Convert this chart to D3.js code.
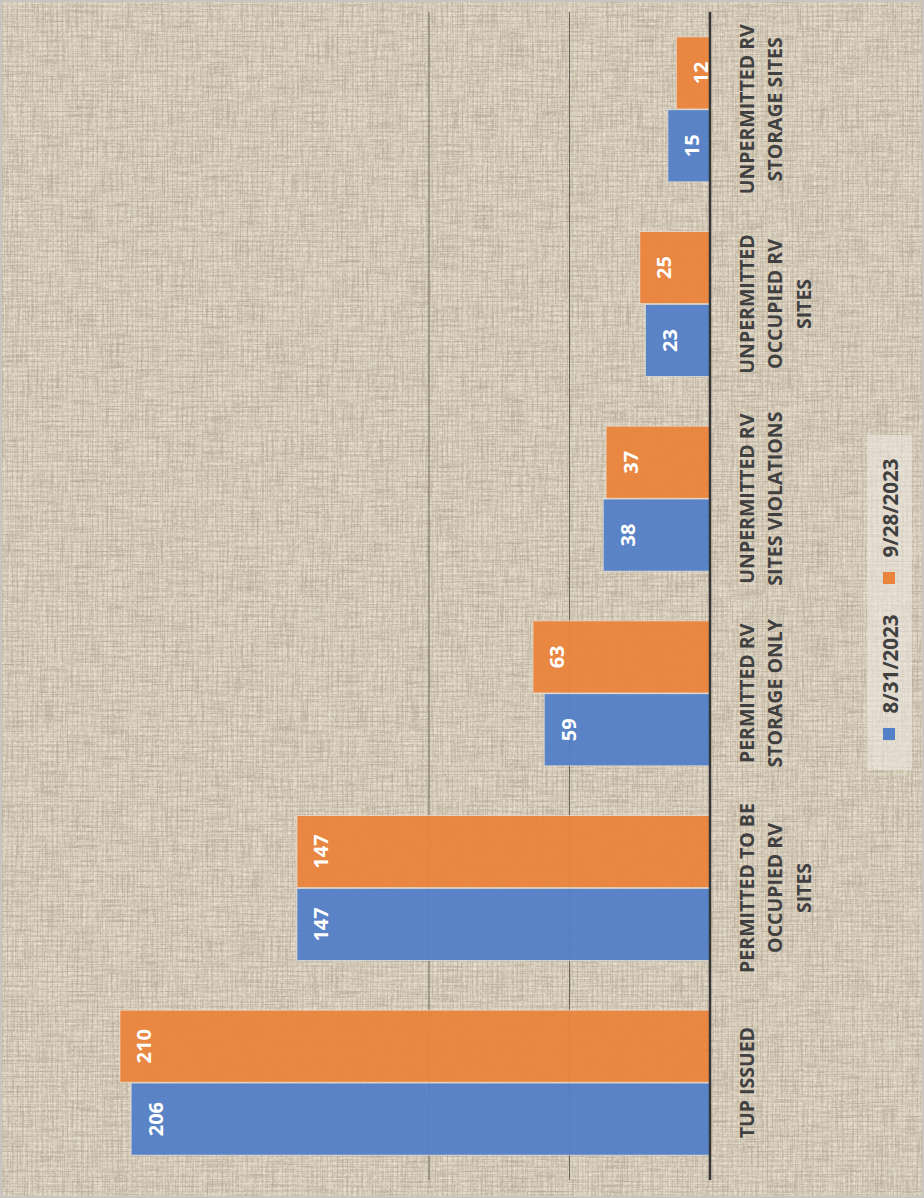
<!DOCTYPE html>
<html>
<head>
<meta charset="utf-8">
<script src="https://cdn.jsdelivr.net/npm/d3@7"></script>
<style>
  html, body { margin: 0; padding: 0; background: #d9cfbc; }
  svg { display: block; }
</style>
</head>
<body>
<div id="chart"></div>
<script>
// ---- Data ----
const categories = [
  "TUP ISSUED",
  "PERMITTED TO BE OCCUPIED RV SITES",
  "PERMITTED RV STORAGE ONLY",
  "UNPERMITTED RV SITES VIOLATIONS",
  "UNPERMITTED OCCUPIED RV SITES",
  "UNPERMITTED RV STORAGE SITES"
];
const categoryLines = [
  ["TUP ISSUED"],
  ["PERMITTED TO BE", "OCCUPIED RV", "SITES"],
  ["PERMITTED RV", "STORAGE ONLY"],
  ["UNPERMITTED RV", "SITES VIOLATIONS"],
  ["UNPERMITTED", "OCCUPIED RV", "SITES"],
  ["UNPERMITTED RV", "STORAGE SITES"]
];
const seriesNames = ["8/31/2023", "9/28/2023"];
const values0831 = [206, 147, 59, 38, 23, 15];
const values0928 = [210, 147, 63, 37, 25, 12];
const gridTicks = [50, 100];

const seriesValues = [values0831, values0928];
const colors = ["#5380c7", "#ea843c"];

// ---- Layout ----
const W = 924, H = 1198;
const svg = d3.select("#chart").append("svg").attr("width", W).attr("height", H);

// linen texture
const defs = svg.append("defs");
const p1 = defs.append("pattern").attr("id", "linen").attr("patternUnits", "userSpaceOnUse")
  .attr("width", 5).attr("height", 5);
p1.append("rect").attr("width", 5).attr("height", 5).attr("fill", "#dad0bd");
p1.append("rect").attr("x", 0).attr("y", 1).attr("width", 5).attr("height", 1).attr("fill", "rgba(130,115,90,0.12)");
p1.append("rect").attr("x", 2).attr("y", 0).attr("width", 1).attr("height", 5).attr("fill", "rgba(130,115,90,0.12)");
p1.append("rect").attr("x", 0).attr("y", 3).attr("width", 5).attr("height", 1).attr("fill", "rgba(255,250,240,0.18)");
p1.append("rect").attr("x", 4).attr("y", 0).attr("width", 1).attr("height", 5).attr("fill", "rgba(255,250,240,0.15)");

function noiseFilter(id, freq, seed, alphaScale, alphaOff, rgb) {
  const f = defs.append("filter").attr("id", id).attr("x", 0).attr("y", 0).attr("width", "100%").attr("height", "100%");
  f.append("feTurbulence").attr("type", "fractalNoise").attr("baseFrequency", freq)
    .attr("numOctaves", 2).attr("seed", seed).attr("result", "n");
  f.append("feColorMatrix").attr("type", "matrix")
    .attr("values", `0 0 0 0 ${rgb[0]}  0 0 0 0 ${rgb[1]}  0 0 0 0 ${rgb[2]}  ${alphaScale} 0 0 0 ${alphaOff}`);
}
noiseFilter("streakH", "0.03 0.7", 4, 1.6, -0.72, [0.42, 0.36, 0.27]);
noiseFilter("streakV", "0.7 0.03", 9, 1.6, -0.72, [0.42, 0.36, 0.27]);
noiseFilter("lightN", "0.35 0.35", 2, 1.4, -0.72, [0.96, 0.94, 0.9]);

svg.append("rect").attr("width", W).attr("height", H).attr("fill", "url(#linen)");
svg.append("rect").attr("width", W).attr("height", H).attr("filter", "url(#streakH)");
svg.append("rect").attr("width", W).attr("height", H).attr("filter", "url(#streakV)");
svg.append("rect").attr("width", W).attr("height", H).attr("filter", "url(#lightN)");
svg.append("rect").attr("x", 1).attr("y", 1).attr("width", W - 2).attr("height", H - 2)
  .attr("fill", "none").attr("stroke", "#c8c5c0").attr("stroke-width", 2);

// scales (chart is rotated: categories run bottom-to-top, values grow leftwards)
const baseX = 710;
const y = d3.scaleBand().domain(categories).range([1180, 12])
  .paddingInner(0.255).paddingOuter(0.1275);
const x = d3.scaleLinear().domain([0, 250]).range([baseX, baseX - 250 * 2.81]);
const sub = d3.scaleBand().domain([1, 0]).range([0, y.bandwidth()]).paddingInner(0.01);

// gridlines
svg.append("g").selectAll("line").data(gridTicks).join("line")
  .attr("x1", d => x(d)).attr("x2", d => x(d))
  .attr("y1", 12).attr("y2", 1180)
  .attr("stroke", "#57524a").attr("stroke-width", 1).attr("opacity", 0.85);

// bars
const groups = svg.append("g").selectAll("g").data(categories).join("g")
  .attr("transform", d => `translate(0,${y(d)})`);

groups.each(function(cat, ci) {
  const g = d3.select(this);
  [0, 1].forEach(si => {
    const v = seriesValues[si][ci];
    g.append("rect")
      .attr("x", x(v)).attr("y", sub(si))
      .attr("width", x(0) - x(v)).attr("height", sub.bandwidth())
      .attr("fill", colors[si]).attr("fill-opacity", 0.95)
      .attr("stroke", "rgba(235,230,220,0.7)").attr("stroke-width", 1);
    const cx = x(v) + 24, cy = sub(si) + sub.bandwidth() / 2;
    g.append("text")
      .attr("transform", `translate(${cx},${cy}) rotate(-90)`)
      .attr("text-anchor", "middle").attr("dominant-baseline", "central")
      .attr("fill", "#ffffff").attr("font-family", "'Open Sans', sans-serif")
      .attr("font-weight", 700).attr("font-size", 20)
      .text(v);
  });
});

// axis line
svg.append("line").attr("x1", baseX).attr("x2", baseX).attr("y1", 12).attr("y2", 1180)
  .attr("stroke", "#363636").attr("stroke-width", 2.5);

// category labels
categories.forEach((cat, ci) => {
  const cy = y(cat) + y.bandwidth() / 2;
  const t = svg.append("text")
    .attr("transform", `translate(${746},${cy}) rotate(-90)`)
    .attr("text-anchor", "middle")
    .attr("fill", "#404040").attr("font-family", "'Open Sans', sans-serif")
    .attr("font-weight", 700).attr("font-size", 19.5);
  categoryLines[ci].forEach((ln, li) => {
    t.append("tspan").attr("x", 0).attr("y", li * 28.5).attr("dominant-baseline", "central").text(ln);
  });
});

// legend
svg.append("rect").attr("x", 867).attr("y", 435).attr("width", 45).attr("height", 335)
  .attr("fill", "rgba(238,234,226,0.55)");
const legendItems = [
  { name: seriesNames[0], color: colors[0], sq: 728, txt: 664 },
  { name: seriesNames[1], color: colors[1], sq: 572, txt: 508 }
];
legendItems.forEach(it => {
  svg.append("rect").attr("x", 883).attr("y", it.sq).attr("width", 12).attr("height", 12).attr("fill", it.color);
  svg.append("text")
    .attr("transform", `translate(890,${it.txt}) rotate(-90)`)
    .attr("text-anchor", "middle").attr("dominant-baseline", "central")
    .attr("fill", "#404040").attr("font-family", "'Open Sans', sans-serif")
    .attr("font-weight", 700).attr("font-size", 20.5)
    .text(it.name);
});
</script>
</body>
</html>
